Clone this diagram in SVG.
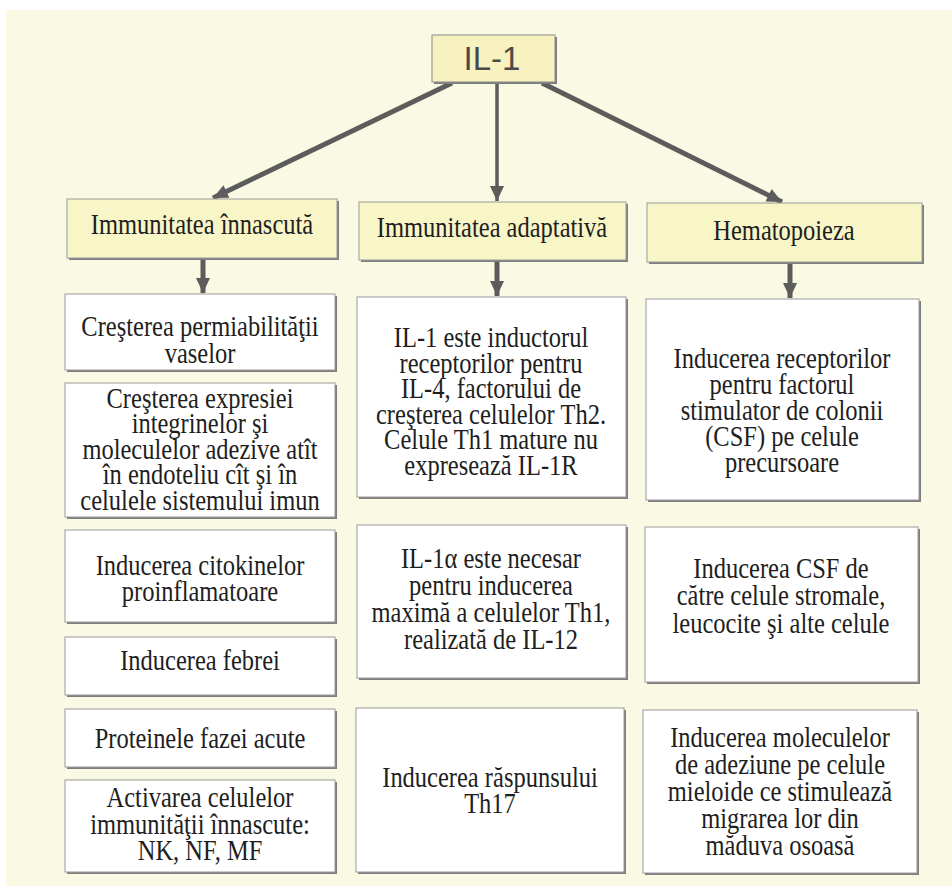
<svg xmlns="http://www.w3.org/2000/svg" width="952" height="886" viewBox="0 0 952 886">
  <style>
    .bg { fill: #f9f9e4; }
    .shadow { fill: #7e7e7e; }
    .box { fill: #ffffff; stroke: #9a9a9a; stroke-width: 1; }
    .head { fill: #f8f5c6; stroke: #9a9a9a; stroke-width: 1; }
    .root { fill: #f7f2c0; stroke: #8a8a8a; stroke-width: 1; }
    .t { font-family: "Liberation Serif", "Times New Roman", serif; font-size: 24.5px; fill: #1e1e1e; text-anchor: middle; }
    .rt { font-family: "Liberation Sans", Arial, sans-serif; font-size: 33px; fill: #4a4a4a; text-anchor: middle; }
    .link { stroke: #5c5c5c; fill: none; stroke-linecap: butt; }
  </style>
  <defs>
    <marker id="arrow" markerUnits="userSpaceOnUse" markerWidth="16" markerHeight="16" refX="15" refY="8" orient="auto">
      <path d="M0,1 L15,8 L0,15 z" fill="#5c5c5c"/>
    </marker>
  </defs>

  <rect class="bg" x="6" y="10" width="946" height="876"/>

  <!-- connectors -->
  <g id="connectors">
    <line class="link" x1="452" y1="83" x2="213" y2="198" stroke-width="5" marker-end="url(#arrow)"/>
    <line class="link" x1="497" y1="83" x2="497" y2="201" stroke-width="3.5" marker-end="url(#arrow)"/>
    <line class="link" x1="542" y1="83" x2="782" y2="202" stroke-width="5" marker-end="url(#arrow)"/>
    <line class="link" x1="203" y1="259" x2="203" y2="293" stroke-width="5" marker-end="url(#arrow)"/>
    <line class="link" x1="497" y1="261" x2="497" y2="296" stroke-width="5" marker-end="url(#arrow)"/>
    <line class="link" x1="790" y1="263" x2="790" y2="298" stroke-width="5" marker-end="url(#arrow)"/>
  </g>

  <!-- root -->
  <g id="il1">
    <rect class="shadow" x="434" y="37" width="123" height="47"/>
    <rect class="root" x="432" y="35" width="123" height="47"/>
    <text class="rt" x="492" y="70">IL-1</text>
  </g>

  <!-- column headers -->
  <g id="hdr-innate">
    <rect class="shadow" x="69" y="201" width="270" height="59"/>
    <rect class="head" x="67" y="199" width="270" height="59"/>
    <text class="t" transform="translate(202 234) scale(1 1.18)">Immunitatea înnascută</text>
  </g>
  <g id="hdr-adaptive">
    <rect class="shadow" x="361" y="204" width="267" height="58"/>
    <rect class="head" x="359" y="202" width="267" height="58"/>
    <text class="t" transform="translate(492 237) scale(1 1.18)">Immunitatea adaptativă</text>
  </g>
  <g id="hdr-hemato">
    <rect class="shadow" x="649" y="205" width="275" height="59"/>
    <rect class="head" x="647" y="203" width="275" height="59"/>
    <text class="t" transform="translate(784 240) scale(1 1.18)">Hematopoieza</text>
  </g>

  <!-- innate immunity column -->
  <g id="inn-1">
    <rect class="shadow" x="67" y="296" width="270" height="76"/>
    <rect class="box" x="65" y="294" width="270" height="76"/>
    <text class="t" transform="translate(200 336) scale(1 1.18)"><tspan x="0" y="0">Creşterea permiabilităţii</tspan><tspan x="0" dy="22.9">vaselor</tspan></text>
  </g>
  <g id="inn-2">
    <rect class="shadow" x="67" y="385" width="270" height="134"/>
    <rect class="box" x="65" y="383" width="270" height="134"/>
    <text class="t" transform="translate(200 408) scale(1 1.18)"><tspan x="0" y="0">Creşterea expresiei</tspan><tspan x="0" dy="21.6">integrinelor şi</tspan><tspan x="0" dy="21.6">moleculelor adezive atît</tspan><tspan x="0" dy="21.6">în endoteliu cît şi în</tspan><tspan x="0" dy="21.6">celulele sistemului imun</tspan></text>
  </g>
  <g id="inn-3">
    <rect class="shadow" x="67" y="532" width="270" height="92"/>
    <rect class="box" x="65" y="530" width="270" height="92"/>
    <text class="t" transform="translate(200 575) scale(1 1.18)"><tspan x="0" y="0">Inducerea citokinelor</tspan><tspan x="0" dy="22">proinflamatoare</tspan></text>
  </g>
  <g id="inn-4">
    <rect class="shadow" x="67" y="639" width="270" height="58"/>
    <rect class="box" x="65" y="637" width="270" height="58"/>
    <text class="t" transform="translate(200 670) scale(1 1.18)">Inducerea febrei</text>
  </g>
  <g id="inn-5">
    <rect class="shadow" x="67" y="711" width="270" height="58"/>
    <rect class="box" x="65" y="709" width="270" height="58"/>
    <text class="t" transform="translate(200 748) scale(1 1.18)">Proteinele fazei acute</text>
  </g>
  <g id="inn-6">
    <rect class="shadow" x="67" y="782" width="270" height="92"/>
    <rect class="box" x="65" y="780" width="270" height="92"/>
    <text class="t" transform="translate(200 807) scale(1 1.18)"><tspan x="0" y="0">Activarea celulelor</tspan><tspan x="0" dy="22.5">immunităţii înnascute:</tspan><tspan x="0" dy="22.5">NK, NF, MF</tspan></text>
  </g>

  <!-- adaptive immunity column -->
  <g id="adp-1">
    <rect class="shadow" x="359" y="299" width="269" height="200"/>
    <rect class="box" x="357" y="297" width="269" height="200"/>
    <text class="t" transform="translate(491 347) scale(1 1.18)"><tspan x="0" y="0">IL-1 este inductorul</tspan><tspan x="0" dy="21.7">receptorilor pentru</tspan><tspan x="0" dy="21.7">IL-4, factorului de</tspan><tspan x="0" dy="21.7">creşterea celulelor Th2.</tspan><tspan x="0" dy="21.7">Celule Th1 mature nu</tspan><tspan x="0" dy="21.7">expresează IL-1R</tspan></text>
  </g>
  <g id="adp-2">
    <rect class="shadow" x="359" y="527" width="269" height="153"/>
    <rect class="box" x="357" y="525" width="269" height="153"/>
    <text class="t" transform="translate(491 568) scale(1 1.18)"><tspan x="0" y="0">IL-1α este necesar</tspan><tspan x="0" dy="22.9">pentru inducerea</tspan><tspan x="0" dy="22.9">maximă a celulelor Th1,</tspan><tspan x="0" dy="22.9">realizată de IL-12</tspan></text>
  </g>
  <g id="adp-3">
    <rect class="shadow" x="358" y="710" width="268" height="164"/>
    <rect class="box" x="356" y="708" width="268" height="164"/>
    <text class="t" transform="translate(490 787) scale(1 1.18)"><tspan x="0" y="0">Inducerea răspunsului</tspan><tspan x="0" dy="22">Th17</tspan></text>
  </g>

  <!-- haematopoiesis column -->
  <g id="hem-1">
    <rect class="shadow" x="648" y="301" width="273" height="201"/>
    <rect class="box" x="646" y="299" width="273" height="201"/>
    <text class="t" transform="translate(782 368) scale(1 1.18)"><tspan x="0" y="0">Inducerea receptorilor</tspan><tspan x="0" dy="22">pentru factorul</tspan><tspan x="0" dy="22">stimulator de colonii</tspan><tspan x="0" dy="22">(CSF) pe celule</tspan><tspan x="0" dy="22">precursoare</tspan></text>
  </g>
  <g id="hem-2">
    <rect class="shadow" x="647" y="529" width="273" height="155"/>
    <rect class="box" x="645" y="527" width="273" height="155"/>
    <text class="t" transform="translate(781 578) scale(1 1.18)"><tspan x="0" y="0">Inducerea CSF de</tspan><tspan x="0" dy="23.3">către celule stromale,</tspan><tspan x="0" dy="23.3">leucocite şi alte celule</tspan></text>
  </g>
  <g id="hem-3">
    <rect class="shadow" x="645" y="712" width="274" height="163"/>
    <rect class="box" x="643" y="710" width="274" height="163"/>
    <text class="t" transform="translate(780 747) scale(1 1.18)"><tspan x="0" y="0">Inducerea moleculelor</tspan><tspan x="0" dy="22.9">de adeziune pe celule</tspan><tspan x="0" dy="22.9">mieloide ce stimulează</tspan><tspan x="0" dy="22.9">migrarea lor din</tspan><tspan x="0" dy="22.9">măduva osoasă</tspan></text>
  </g>
</svg>
